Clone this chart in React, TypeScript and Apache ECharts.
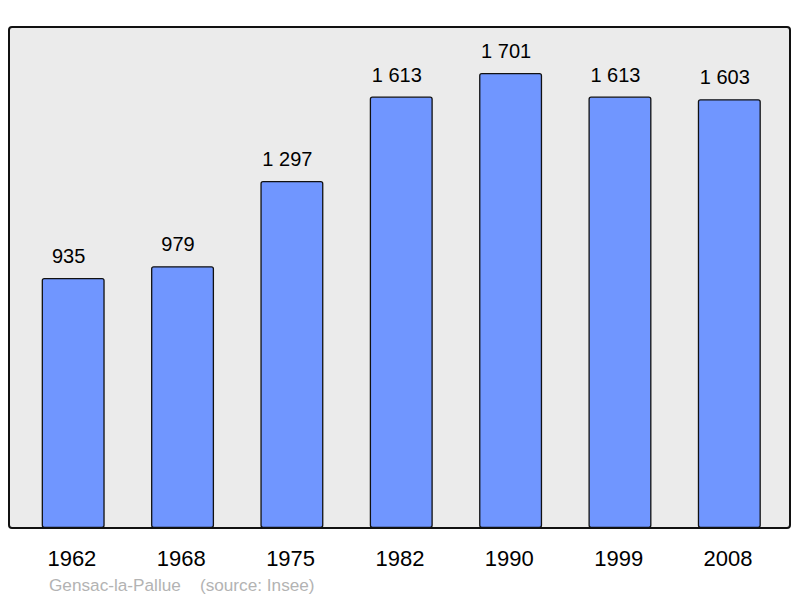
import React, { useEffect, useRef } from "react";
import * as echarts from "echarts";

const years = ["1962", "1968", "1975", "1982", "1990", "1999", "2008"];
const population = [935, 979, 1297, 1613, 1701, 1613, 1603];
const footer = "Gensac-la-Pallue    (source: Insee)";

const fmt = (v: number) => {
  const s = String(v);
  return s.length > 3 ? s.slice(0, s.length - 3) + " " + s.slice(-3) : s;
};

const FONT = "Liberation Sans, Arial, sans-serif";

export default function App() {
  const ref = useRef<HTMLDivElement>(null);
  useEffect(() => {
    const chart = echarts.init(ref.current!, null, { renderer: "svg" });
    chart.setOption({
      animation: false,
      backgroundColor: "#ffffff",
      textStyle: { fontFamily: FONT },
      graphic: [
        {
          type: "rect",
          z: -10,
          shape: { x: 9, y: 27, width: 781, height: 501, r: 3 },
          style: { fill: "#ebebeb", stroke: "#111111", lineWidth: 2 },
        },
        {
          type: "text",
          x: 49,
          y: 585,
          style: {
            text: footer,
            fill: "#b3b3b3",
            font: "17.2px " + FONT,
            textVerticalAlign: "middle",
          },
        },
      ],
      grid: { left: 18.5, width: 765.5, top: 27, height: 501 },
      xAxis: {
        type: "category",
        data: years,
        axisLine: { show: false },
        axisTick: { show: false },
        axisLabel: {
          color: "#000",
          fontSize: 22,
          margin: 19,
          fontFamily: FONT,
          padding: [0, 2.6, 0, 0],
        },
      },
      yAxis: {
        type: "value",
        min: 0,
        max: 1873,
        show: false,
        splitLine: { show: false },
      },
      series: [
        {
          type: "bar",
          data: population,
          barWidth: 63,
          itemStyle: { color: "#7096ff", borderColor: "#111111", borderWidth: 1.3, borderRadius: 2 },
          label: {
            show: true,
            position: "top",
            distance: 12,
            offset: [-4.5, 0],
            color: "#000",
            fontSize: 20,
            fontFamily: FONT,
            formatter: (p: any) => fmt(p.value),
          },
        },
      ],
    });
    return () => chart.dispose();
  }, []);
  return <div ref={ref} style={{ width: 800, height: 598, position: "absolute", left: 0, top: 0 }} />;
}
